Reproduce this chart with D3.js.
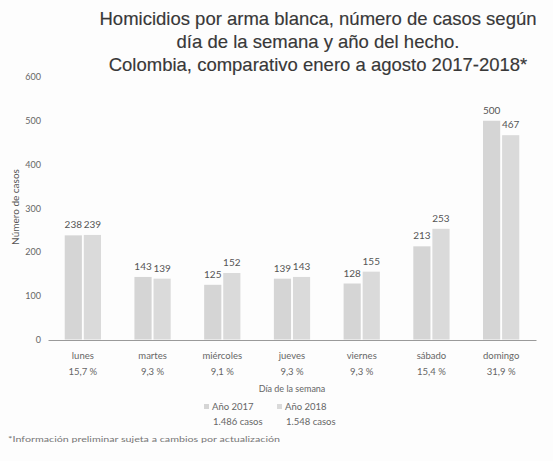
<!DOCTYPE html>
<html><head><meta charset="utf-8">
<script src="https://cdn.jsdelivr.net/npm/d3@7"></script>
<style>body{margin:0;background:#fff}svg{display:block}</style>
</head><body>
<script>
const categories = ["lunes","martes","miércoles","jueves","viernes","sábado","domingo"];
const percentages = ["15,7 %","9,3 %","9,1 %","9,3 %","9,3 %","15,4 %","31,9 %"];
const series = ["Año 2017","Año 2018"];
const seriesTotals = ["1.486 casos","1.548 casos"];
const values2017 = [238,143,125,139,128,213,500];
const values2018 = [239,139,152,143,155,253,467];
const yTicks = [0,100,200,300,400,500,600];
const titleLines = ["Homicidios por arma blanca, número de casos según","día de la semana y año del hecho.","Colombia, comparativo enero a agosto 2017-2018*"];
const footnote = "*Información preliminar sujeta a cambios por actualización";

const W=553,H=461;
const colors = ["#d5d5d5","#dadada"];
const lf = "Lato, 'Open Sans', sans-serif";
const svg = d3.select("body").append("svg").attr("width",W).attr("height",H);
svg.append("rect").attr("width",W).attr("height",H).attr("fill","#fdfdfd");

// title
svg.append("g").selectAll("text").data(titleLines).join("text")
  .attr("x",318).attr("y",(d,i)=>25+i*23).attr("text-anchor","middle")
  .attr("font-family","'Liberation Sans', Arial, sans-serif").attr("font-size",18.5)
  .attr("fill","#383838").attr("stroke","#383838").attr("stroke-width",0.15).text(d=>d);

const x = d3.scaleBand().domain(categories).range([48,536]).paddingInner(0.48).paddingOuter(0.24);
const x1 = d3.scaleBand().domain(series).range([0,x.bandwidth()]).paddingInner(0.1);
const y = d3.scaleLinear().domain([0,600]).range([339.5,77]);

// y ticks
const ya = svg.append("g").attr("transform","translate(41,0)")
  .call(d3.axisLeft(y).tickValues(yTicks).tickSize(0).tickPadding(0));
ya.select(".domain").remove();
ya.selectAll("text").attr("font-family",lf).attr("font-size",9).attr("fill","#666");

// y title
svg.append("text").attr("transform","translate(19,207) rotate(-90)").attr("text-anchor","middle")
  .attr("font-family",lf).attr("font-size",10).attr("fill","#555").text("Número de casos");

const data = categories.map((c,i)=>({c, vals:[values2017[i],values2018[i]]}));
const g = svg.append("g").selectAll("g").data(data).join("g").attr("transform",d=>`translate(${x(d.c)},0)`);
g.selectAll("rect").data(d=>d.vals.map((v,i)=>({s:series[i],v,i}))).join("rect")
  .attr("x",d=>x1(d.s)).attr("width",x1.bandwidth())
  .attr("y",d=>y(d.v)).attr("height",d=>y(0)-y(d.v)).attr("fill",d=>colors[d.i]);
g.selectAll("text").data(d=>d.vals.map((v,i)=>({s:series[i],v,i}))).join("text")
  .attr("x",d=>x1(d.s)+x1.bandwidth()/2).attr("y",d=>y(d.v)-7).attr("text-anchor","middle")
  .attr("font-family",lf).attr("font-size",10).attr("fill","#555").text(d=>d.v);

// x axis
const xa = svg.append("g").attr("transform","translate(0,340)")
  .call(d3.axisBottom(x).tickSize(0).tickPadding(0).tickFormat(()=>""));
xa.select(".domain").attr("stroke","#9a9a9a").attr("stroke-width",1);
svg.append("g").selectAll("text").data(categories).join("text")
  .attr("x",d=>x(d)+x.bandwidth()/2).attr("y",359).attr("text-anchor","middle")
  .attr("font-family",lf).attr("font-size",9.5).attr("fill","#666").text(d=>d);
svg.append("g").selectAll("text").data(percentages).join("text")
  .attr("x",(d,i)=>x(categories[i])+x.bandwidth()/2).attr("y",375).attr("text-anchor","middle")
  .attr("font-family",lf).attr("font-size",9.5).attr("fill","#666").text(d=>d);
svg.append("text").attr("x",x(categories[3])+x.bandwidth()/2).attr("y",392).attr("text-anchor","middle")
  .attr("font-family",lf).attr("font-size",9).attr("fill","#666").text("Día de la semana");

// legend
const lx=[204,277];
const lg = svg.append("g").selectAll("g").data(series).join("g").attr("transform",(d,i)=>`translate(${lx[i]},0)`);
lg.append("rect").attr("x",0).attr("y",404).attr("width",5).attr("height",5).attr("fill",(d,i)=>colors[i]);
lg.append("text").attr("x",8).attr("y",410).attr("font-family",lf).attr("font-size",9.5).attr("fill","#666").text(d=>d);
lg.append("text").attr("x",9).attr("y",425).attr("font-family",lf).attr("font-size",9.5).attr("fill","#666").text((d,i)=>seriesTotals[i]);

svg.append("text").attr("x",8).attr("y",442).attr("font-family",lf).attr("font-size",8.2).attr("fill","#777")
  .attr("textLength",272).attr("lengthAdjust","spacingAndGlyphs").text(footnote);
</script>
</body></html>
